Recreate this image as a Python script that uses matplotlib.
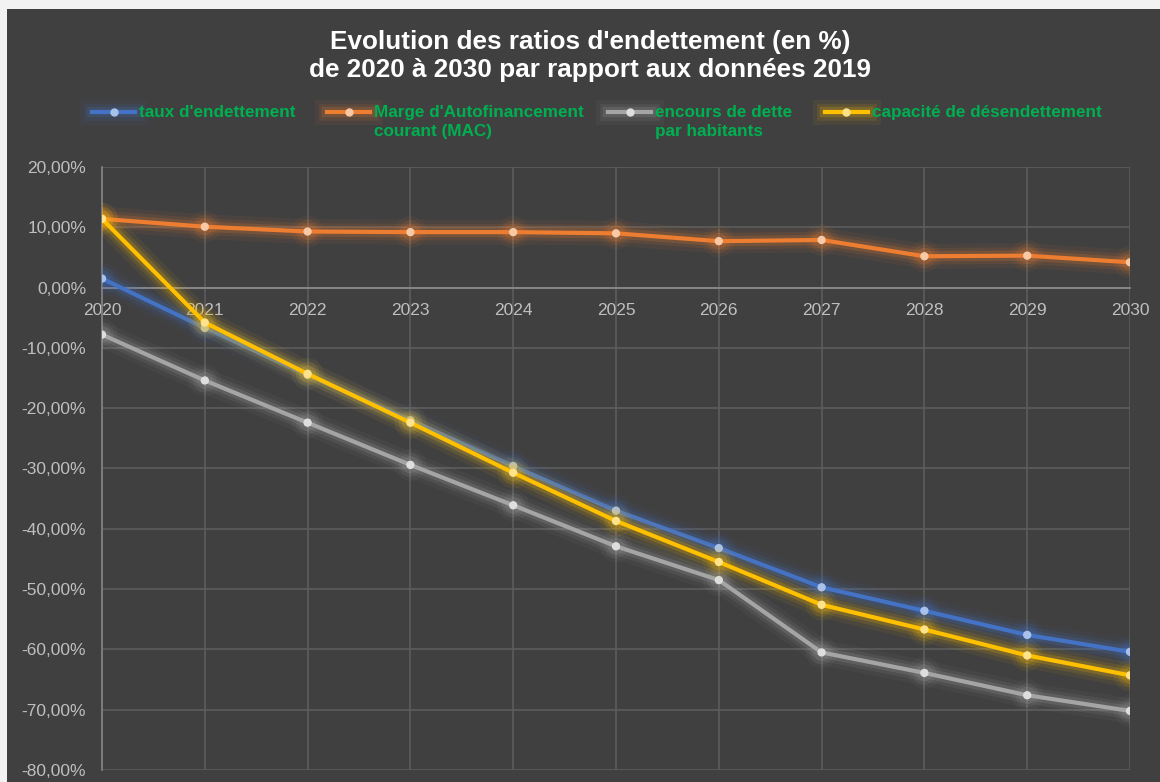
import numpy as np
import matplotlib
matplotlib.use("Agg")
import matplotlib.pyplot as plt
import matplotlib.patheffects as pe
from matplotlib.lines import Line2D
from matplotlib.patches import Rectangle
from matplotlib.ticker import FuncFormatter

# données 2020-2030 (variation en % par rapport à 2019)
years = [2020, 2021, 2022, 2023, 2024, 2025, 2026, 2027, 2028, 2029, 2030]
taux_endettement = [1.5, -6.7, -14.5, -22.0, -29.6, -37.0, -43.2, -49.7, -53.6, -57.6, -60.4]
marge_autofinancement = [11.4, 10.1, 9.3, 9.2, 9.2, 9.0, 7.7, 7.9, 5.2, 5.3, 4.2]
encours_dette = [-7.8, -15.4, -22.4, -29.4, -36.1, -42.9, -48.5, -60.5, -63.9, -67.6, -70.2]
capacite_desendettement = [11.4, -5.8, -14.3, -22.4, -30.7, -38.7, -45.5, -52.6, -56.7, -61.0, -64.3]

labels = ["taux d'endettement", "Marge d'Autofinancement\ncourant (MAC)",
          "encours de dette\npar habitants", "capacité de désendettement"]
series = [taux_endettement, marge_autofinancement, encours_dette, capacite_desendettement]
colors = ["#4472c4", "#ed7d31", "#a5a5a5", "#ffc000"]
marker_fill = ["#a9c2ec", "#f9c9a6", "#dedede", "#ffe38a"]

bg = "#404040"
txt_grey = "#bfbfbf"
green = "#00b050"
font = ["Liberation Sans", "DejaVu Sans"]
plt.rcParams["font.family"] = font

fig = plt.figure(figsize=(11.6, 7.82), dpi=100)
fig.patch.set_facecolor("#f2f2f2")
fig.add_artist(Rectangle((7 / 1160, 0), 1, 1 - 9 / 782, transform=fig.transFigure,
                         facecolor=bg, edgecolor="none", zorder=-10))

ax = fig.add_axes([102 / 1160, 1 - 770 / 782, (1130 - 102) / 1160, (770 - 167) / 782])
ax.set_facecolor(bg)


def glow(c):
    return [pe.Stroke(linewidth=18, foreground=c, alpha=0.06),
            pe.Stroke(linewidth=12, foreground=c, alpha=0.11),
            pe.Stroke(linewidth=7.5, foreground=c, alpha=0.18),
            pe.Normal()]


for vals, c, mf in zip(series, colors, marker_fill):
    ax.plot(years, vals, color=c, lw=3, marker="o", markersize=5,
            markerfacecolor=mf, markeredgecolor=mf, path_effects=glow(c),
            solid_joinstyle="round", zorder=3)

ax.set_xlim(2020, 2030)
ax.set_ylim(-80, 20)
ax.set_yticks(np.arange(-80, 21, 10))
ax.set_xticks(years)
ax.yaxis.set_major_formatter(FuncFormatter(lambda v, p: f"{v:.2f}%".replace(".", ",")))

ax.grid(True, color="#5c5c5c", lw=1.2)
ax.set_axisbelow(True)
for s in ["top", "right"]:
    ax.spines[s].set_visible(False)
ax.spines["left"].set_color("#808080")
ax.spines["left"].set_linewidth(1.3)
ax.spines["bottom"].set_position(("data", 0))
ax.spines["bottom"].set_color("#8a8a8a")
ax.spines["bottom"].set_linewidth(1.3)

ax.tick_params(axis="both", length=0, colors=txt_grey, labelsize=12.5)
ax.tick_params(axis="y", pad=11.5)
ax.tick_params(axis="x", pad=11)
for t in ax.get_xticklabels() + ax.get_yticklabels():
    t.set_color(txt_grey)

title_x = 590 / 1160
fig.text(title_x, 1 - 42 / 782, "Evolution des ratios d'endettement (en %)", ha="center", va="center",
         color="white", fontsize=18.8, fontweight="bold")
fig.text(title_x, 1 - 70 / 782, "de 2020 à 2030 par rapport aux données 2019", ha="center", va="center",
         color="white", fontsize=18.8, fontweight="bold")

# légende dessinée à la main
leg_x = [92, 327, 608, 825]
for lx, lab, c, mf in zip(leg_x, labels, colors, marker_fill):
    y = 1 - 112 / 782
    fig.add_artist(Line2D([lx / 1160, (lx + 43) / 1160], [y, y], transform=fig.transFigure,
                          color=c, lw=3, path_effects=glow(c)))
    fig.add_artist(Line2D([(lx + 21.5) / 1160], [y], transform=fig.transFigure, marker="o",
                          markersize=5, markerfacecolor=mf, markeredgecolor=mf, lw=0))
    fig.text((lx + 47) / 1160, 1 - 105 / 782, lab, ha="left", va="top", color=green,
             fontsize=12.3, fontweight="bold", linespacing=1.35)

fig.savefig("out.png", dpi=100, facecolor=fig.get_facecolor())
